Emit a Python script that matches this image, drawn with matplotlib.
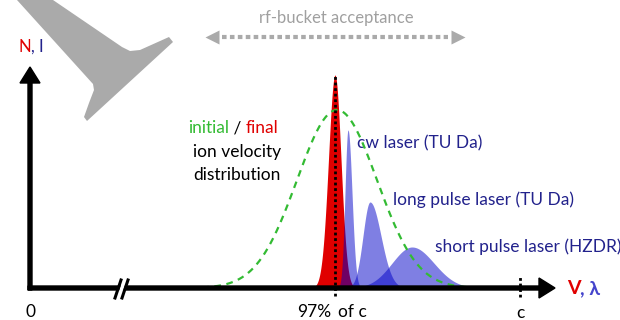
import numpy as np
import matplotlib.pyplot as plt
from matplotlib.patches import Polygon

plt.rcParams['font.family'] = ['Lato', 'DejaVu Sans']

# schematic axis, units ~ pixels of a 620x320 canvas, baseline at y=32
x_origin = 30
baseline = 32
x_axis_end = 555
y_axis_end = 253
x_peak = 335      # 97% of c
x_c = 520         # c

# initial ion velocity distribution (green dashed)
init_center = 337
init_height = 178
init_sigma = 40
init_range = (190, 472)

# final distribution (red)
final_center = 335
final_height = 213
final_sigma_left = 6.5
final_sigma_right = 6.0

# laser spectra
laser_names = ['cw laser (TU Da)', 'long pulse laser (TU Da)', 'short pulse laser (HZDR)']
laser_centers = [348, 370, 412]
laser_heights = [158, 86, 41]
laser_sig_left = [3.0, 7.0, 20.0]
laser_sig_right = [4.0, 11.0, 22.0]
label_x = [357, 393, 435]
label_y = [177, 120, 73]

# grey pointer shape in the top left corner (image pixels, y down)
pointer_px = [(17, 0), (53, 0), (122, 47), (130, 51), (140, 50), (169, 37),
              (173, 42), (87, 121), (84, 117), (89, 103), (94, 90), (93, 84)]

RED = '#e00000'
BLUE_TXT = '#22228c'
GREEN = '#33bb33'
GREY = '#aaaaaa'
FS = 12.5


def skew_gauss(x, c, h, sl, sr):
    s = np.where(x < c, sl, sr)
    return h * np.exp(-0.5 * ((x - c) / s) ** 2)


def chain_text(ax, x, y, parts, colors, **kw):
    t = ax.text(x, y, parts[0], color=colors[0], va='center', ha='left', **kw)
    for s, col in zip(parts[1:], colors[1:]):
        t = ax.annotate(s, xycoords=t, xy=(1, 0.5), va='center', ha='left',
                        color=col, **kw)
    return t


fig = plt.figure(figsize=(6.2, 3.2), dpi=100)
ax = fig.add_axes([0, 0, 1, 1])
ax.set_xlim(0, 620)
ax.set_ylim(0, 320)
ax.axis('off')

# grey pointer
ax.add_patch(Polygon([(px, 320 - py) for px, py in pointer_px], closed=True,
                     facecolor=GREY, edgecolor='none'))

# final distribution
xf = np.linspace(final_center - 35, final_center + 35, 400)
ax.fill_between(xf, baseline, baseline + skew_gauss(xf, final_center, final_height,
                final_sigma_left, final_sigma_right), color=RED, lw=0, zorder=2)

# laser spectra
for c, h, sl, sr in zip(laser_centers, laser_heights, laser_sig_left, laser_sig_right):
    xs = np.linspace(c - 4 * sl, c + 4 * sr, 400)
    ax.fill_between(xs, baseline, baseline + skew_gauss(xs, c, h, sl, sr),
                    color='#0000c8', alpha=0.5, lw=0, zorder=3)
for name, lx, ly in zip(laser_names, label_x, label_y):
    ax.text(lx, ly, name, color=BLUE_TXT, fontsize=FS, va='center', ha='left')

# initial distribution
xi = np.linspace(init_range[0], init_range[1], 400)
ax.plot(xi, baseline + skew_gauss(xi, init_center, init_height, init_sigma, init_sigma),
        color=GREEN, lw=1.6, dashes=(3, 2.5), zorder=4)

# axes arrows
ax.arrow(x_origin, baseline - 2, 0, y_axis_end - baseline + 2, width=4,
         head_width=20, head_length=16, length_includes_head=True,
         color='black', zorder=5)
ax.arrow(x_origin - 2, baseline, x_axis_end - x_origin + 2, 0, width=4,
         head_width=20, head_length=16, length_includes_head=True,
         color='black', zorder=5)

# axis break
ax.add_patch(Polygon([(118, 26), (122, 26), (126, 38), (122, 38)], closed=True,
                     facecolor='white', edgecolor='none', zorder=6))
ax.plot([115, 121], [22, 40], color='black', lw=2.2, zorder=7)
ax.plot([122, 128], [22, 40], color='black', lw=2.2, zorder=7)

# dotted markers at 97% of c and c
ax.plot([x_peak, x_peak], [24, baseline + final_height], color='black', lw=2,
        dashes=(1, 1), zorder=6)
ax.plot([x_c, x_c], [23, 43], color='black', lw=2, dashes=(1, 1), zorder=6)

# rf-bucket acceptance
ax.plot([222, 448], [283, 283], color=GREY, lw=3, dashes=(1.1, 0.8))
ax.plot([212], [283], marker='<', ms=10, color=GREY, mec='none')
ax.plot([458], [283], marker='>', ms=10, color=GREY, mec='none')
ax.text(336, 302, 'rf-bucket acceptance', color='#a0a0a0', fontsize=12,
        ha='center', va='center')

# labels
chain_text(ax, 18, 273, ['N', ', I'], [RED, BLUE_TXT], fontsize=12)
chain_text(ax, 188, 192, ['initial', ' / ', 'final'], [GREEN, 'black', RED], fontsize=FS)
ax.text(237, 168, 'ion velocity', fontsize=FS, ha='center', va='center')
ax.text(237, 145, 'distribution', fontsize=FS, ha='center', va='center')
ax.text(x_origin, 8, '0', fontsize=FS, ha='center', va='center')
ax.text(331, 8, '97%', fontsize=FS, ha='right', va='center')
ax.text(338, 8, 'of c', fontsize=FS, ha='left', va='center')
ax.text(x_c, 7, 'c', fontsize=FS, ha='center', va='center')
chain_text(ax, 567, 31, ['V', ', λ'], [RED, '#4444cc'], fontsize=14, fontweight='bold')

fig.savefig('out.png', dpi=100)
